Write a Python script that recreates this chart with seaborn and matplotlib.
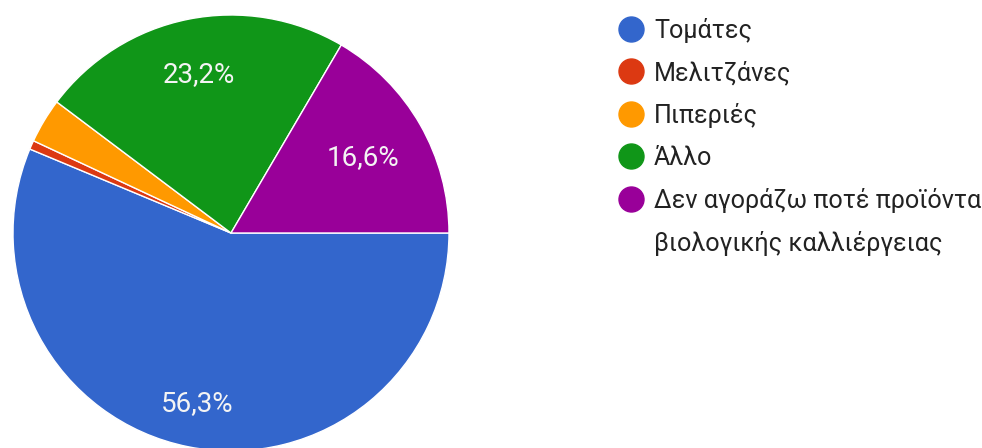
import numpy as np
import matplotlib
matplotlib.use("Agg")
import matplotlib.pyplot as plt
from matplotlib.lines import Line2D
import seaborn as sns

# Answers (response counts) and their legend labels
categories = [
    "Τομάτες",
    "Μελιτζάνες",
    "Πιπεριές",
    "Άλλο",
    "Δεν αγοράζω ποτέ προϊόντα\nβιολογικής καλλιέργειας",
]
counts = [85, 1, 5, 35, 25]
colors = ["#3366CC", "#DC3912", "#FF9900", "#109618", "#990099"]

# radial position of each percentage label (fraction of the radius)
label_radius = [0.80, 0.75, 0.75, 0.74, 0.70]

sns.set_style("white")
plt.rcParams["font.family"] = ["Roboto", "DejaVu Sans"]

W, H = 982, 448
fig = plt.figure(figsize=(W / 100, H / 100), dpi=100)

# pie area: centre (231, 233) px from top-left, radius 218 px
cx, cy, R = 231, 233, 218
ax = fig.add_axes([(cx - R) / W, (H - cy - R) / H, 2 * R / W, 2 * R / H])


def pct_label(p):
    return f"{p:.1f}%".replace(".", ",") if p >= 5 else ""


wedges, texts, autotexts = ax.pie(
    counts,
    colors=colors,
    startangle=0,
    counterclock=False,
    autopct=pct_label,
    pctdistance=0.75,
    wedgeprops=dict(edgecolor="white", linewidth=1.0),
    textprops=dict(color="#F4F4F4", fontsize=20),
)
for w, t, r in zip(wedges, autotexts, label_radius):
    ang = np.deg2rad((w.theta1 + w.theta2) / 2)
    t.set_position((r * np.cos(ang), r * np.sin(ang)))

ax.set_xlim(-1, 1)
ax.set_ylim(-1, 1)
ax.set_aspect("equal")
ax.axis("off")

# legend: wrapped labels continue on their own row without a marker
handles, labels = [], []
for cat, c in zip(categories, colors):
    for i, line in enumerate(cat.split("\n")):
        if i == 0:
            h = Line2D([], [], linestyle="none", marker="o", markersize=18,
                       markerfacecolor=c, markeredgecolor=c)
        else:
            h = Line2D([], [], linestyle="none", marker="none")
        handles.append(h)
        labels.append(line)

leg = fig.legend(
    handles, labels,
    loc="upper left",
    bbox_to_anchor=(605 / W, 1 - 5 / H),
    frameon=False,
    fontsize=18.1,
    handlelength=1.05,
    handletextpad=0.4,
    labelspacing=0.71,
    borderpad=0.0,
    labelcolor="#222222",
)

fig.savefig("out.png", dpi=100)
